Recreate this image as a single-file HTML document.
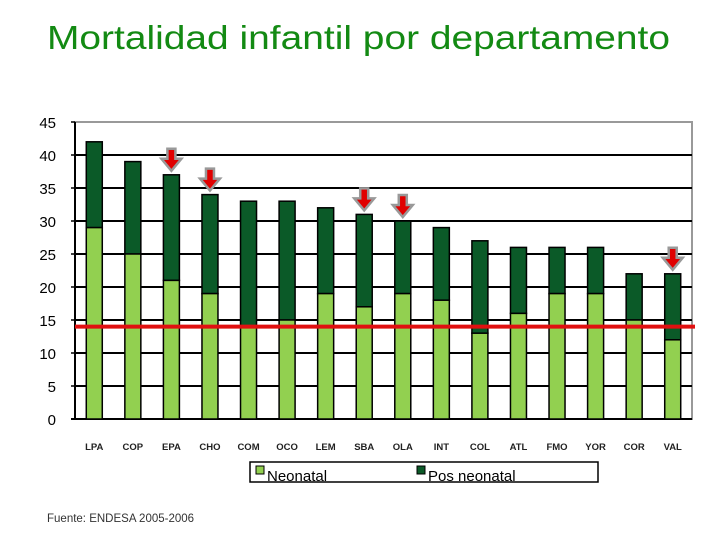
<!DOCTYPE html>
<html><head><meta charset="utf-8"><style>
body{margin:0;width:720px;height:540px;background:#fff;overflow:hidden;font-family:"Liberation Sans",sans-serif}
</style></head><body>
<svg id="c" width="720" height="540" xmlns="http://www.w3.org/2000/svg">
<text x="47" y="49" font-size="33" textLength="623" lengthAdjust="spacingAndGlyphs" fill="#138a13">Mortalidad infantil por departamento</text>
<text x="47" y="522" font-size="11.5" fill="#333">Fuente: ENDESA 2005-2006</text>
<g id="g"></g>
</svg>
<script>
const categories=["LPA","COP","EPA","CHO","COM","OCO","LEM","SBA","OLA","INT","COL","ATL","FMO","YOR","COR","VAL"];
const neonatal=[29,25,21,19,14,15,19,17,19,18,13,16,19,19,15,12];
const posNeonatal=[13,14,16,15,19,18,13,14,11,11,14,10,7,7,7,10];
const arrowed=["EPA","CHO","SBA","OLA","VAL"];
const yTicks=[0,5,10,15,20,25,30,35,40,45];
const reference=[14];
const NS="http://www.w3.org/2000/svg",g=document.getElementById('g');
const L=75,R=692,T=122,B=419,yMax=45;
const y=v=>B-(v/yMax)*(B-T);
const step=(R-L)/categories.length;
const xc=i=>L+(i+0.5)*step;
function mk(t,a){const e=document.createElementNS(NS,t);for(const k in a)e.setAttribute(k,a[k]);g.appendChild(e);return e;}
let e=mk('rect',{x:L,y:T,width:R-L,height:B-T,fill:'#fff',stroke:'#999','stroke-width':2});

yTicks.forEach(v=>{
 if(v>0&&v<yMax){let l=mk('line',{x1:L,x2:R,y1:y(v),y2:y(v),stroke:'#000','stroke-width':2});}
 let t=mk('text',{x:56,y:y(v)+6,'text-anchor':'end','font-size':15,fill:'#000'});t.textContent=v;
 
 mk('line',{x1:L-4,x2:L,y1:y(v),y2:y(v),stroke:'#000','stroke-width':1.5});
});
e=mk('line',{x1:L,x2:L,y1:T,y2:B,stroke:'#000','stroke-width':2});
e=mk('line',{x1:L-4,x2:R,y1:B,y2:B,stroke:'#000','stroke-width':2});
const bw=16;
categories.forEach((c,i)=>{
 const x=xc(i)-bw/2,tot=neonatal[i]+posNeonatal[i];
 let b=mk('rect',{x:x,y:y(tot),width:bw,height:y(neonatal[i])-y(tot),fill:'#0b5a28',stroke:'#000','stroke-width':1.5});
 
 b=mk('rect',{x:x,y:y(neonatal[i]),width:bw,height:B-y(neonatal[i]),fill:'#92d050',stroke:'#000','stroke-width':1.5});
 
 let t=mk('text',{x:xc(i),y:450,'text-anchor':'middle','font-size':9.5,'font-weight':'bold',fill:'#222'});t.textContent=c;
 
 if(arrowed.includes(c)){
  const ax=xc(i),ay=y(tot)-4;
  let p=mk('path',{d:`M${ax-4},${ay-22}h8v10h6l-10,12l-10,-12h6z`,fill:'#e00000',stroke:'#999','stroke-width':2.5});
  
 }
});
reference.forEach(v=>{let l=mk('line',{x1:L,x2:R+3,y1:y(v),y2:y(v),stroke:'#e01010','stroke-width':4});
 });
e=mk('rect',{x:250,y:462,width:348,height:20,fill:'#fff',stroke:'#000','stroke-width':1.5});
e=mk('rect',{x:256,y:466,width:8,height:8,fill:'#92d050',stroke:'#000'});
e=mk('text',{x:267,y:481,'font-size':15,fill:'#000'});e.textContent='Neonatal';
e=mk('rect',{x:417,y:466,width:8,height:8,fill:'#0b5a28',stroke:'#000'});
e=mk('text',{x:428,y:481,'font-size':15,fill:'#000'});e.textContent='Pos neonatal';
</script>
</body></html>
